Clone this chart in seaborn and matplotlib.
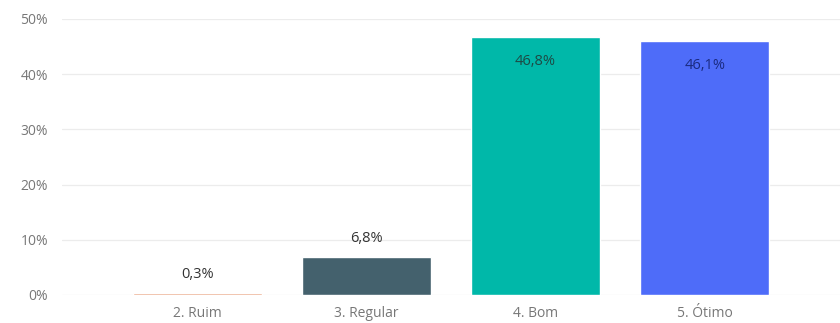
import matplotlib
matplotlib.use("Agg")
import matplotlib.pyplot as plt
import seaborn as sns
import pandas as pd

categories = ["2. Ruim", "3. Regular", "4. Bom", "5. Ótimo"]
values = [0.3, 6.8, 46.8, 46.1]
labels = ["0,3%", "6,8%", "46,8%", "46,1%"]
colors = ["#E9A27F", "#44616D", "#00B8A9", "#4E6CF9"]
label_colors = ["#333333", "#333333", "#1d4a45", "#1a2a80"]
yticks = [0, 10, 20, 30, 40, 50]

df = pd.DataFrame({"cat": categories, "val": values})

sns.set_style("white")
plt.rcParams["font.family"] = ["Open Sans", "DejaVu Sans"]

fig = plt.figure(figsize=(8.4, 3.23), dpi=100)
ax = fig.add_axes([62 / 840, 28 / 323, 778 / 840, 276 / 323])

sns.barplot(data=df, x="cat", y="val", hue="cat", palette=colors,
            width=0.765, legend=False, ax=ax, saturation=1)

ax.set_xlim(-0.8, 3.8)
ax.set_ylim(0, 50)
ax.set_yticks(yticks)
ax.set_yticklabels([f"{t}%" for t in yticks])
for t in yticks:
    ax.axhline(t, color="#ECECEC", lw=0.9, zorder=0)

# labels inside the tall bars, above the short ones
for i, (v, lab) in enumerate(zip(values, labels)):
    if v > 20:
        ax.text(i, v - 3.1, lab, ha="center", va="top", fontsize=10.5,
                color=label_colors[i])
    else:
        ax.text(i, v + 2.0, lab, ha="center", va="bottom", fontsize=10.5,
                color=label_colors[i])

ax.set_xlabel("")
ax.set_ylabel("")
ax.tick_params(axis="both", length=0, labelsize=10, colors="#777777")
ax.tick_params(axis="x", pad=8)
ax.tick_params(axis="y", pad=10)
sns.despine(ax=ax, left=True, bottom=True)

fig.savefig("out.png", dpi=100)
